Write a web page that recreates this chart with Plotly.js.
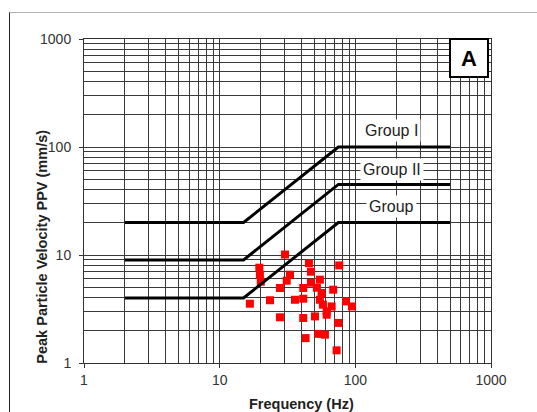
<!DOCTYPE html>
<html>
<head>
<meta charset="utf-8">
<script src="https://cdn.plot.ly/plotly-3.0.1.min.js"></script>
<style>
  html, body { margin: 0; padding: 0; background: #fff; }
  #frame { position: absolute; left: 9px; top: 12px; width: 540px; height: 410px;
           border-left: 1px solid #222; border-top: 1px solid #b0b0b0; }
  #chart { position: absolute; left: 0; top: 0; width: 537px; height: 412px; }
</style>
</head>
<body>
<div id="frame"></div>
<div id="chart"></div>
<script>
// Measured blast vibrations: frequency (Hz) and PPV (mm/s)
const freq = [16.7, 19.6, 19.8, 20.1, 23.5, 27.8, 27.8, 30.3, 31.2, 33.0,
              35.9, 41.3, 41.3, 41.3, 43.0, 45.5, 47.1, 47.1, 52.1, 54.8,
              56.4, 54.8, 57.7, 61.5, 50.4, 61.5, 53.3, 59.7, 66.9, 68.7,
              72.8, 74.8, 76.1, 85.3, 94.4];
const ppv  = [3.54, 7.63, 6.57, 5.66, 3.81, 2.65, 4.95, 10.1, 5.78, 6.57,
              3.85, 4.95, 3.94, 2.61, 1.70, 8.40, 7.00, 5.54, 4.98, 5.91,
              4.45, 3.85, 3.47, 3.00, 2.70, 2.80, 1.86, 1.83, 3.34, 4.77,
              1.31, 2.35, 8.01, 3.72, 3.34];

// Limit curves
const limitFreq = [2, 15, 75, 500];
const groupI    = [20, 20, 100, 100];
const groupII   = [9, 9, 45, 45];
const groupIII  = [4, 4, 20, 20];
const groupLabels = ['Group I', 'Group II', 'Group'];
const groupLabelPos = [[186, 142.5], [186, 61.6], [186, 28.0]];

const decadeVals = [1, 10, 100, 1000];
const decadeText = ['1', '10', '100', '1000'];

const minorVals = [];
for (let d = 1; d <= 100; d *= 10) for (let k = 2; k <= 9; k++) minorVals.push(k * d);

const font = 'Liberation Sans, Arial, sans-serif';

const traces = [
  { x: freq, y: ppv, mode: 'markers', type: 'scatter',
    marker: { symbol: 'square', size: 8, color: '#ff0000' }, hoverinfo: 'x+y' },
  { x: limitFreq, y: groupI, mode: 'lines', line: { color: '#000', width: 3 } },
  { x: limitFreq, y: groupII, mode: 'lines', line: { color: '#000', width: 3 } },
  { x: limitFreq, y: groupIII, mode: 'lines', line: { color: '#000', width: 3 } }
];

function axis() {
  return {
    type: 'log', range: [0, 3], autorange: false,
    tickmode: 'array', tickvals: decadeVals, ticktext: decadeText,
    ticks: 'outside', ticklen: 4, tickcolor: '#333', tickwidth: 1,
    showgrid: true, gridcolor: '#3a3a3a', gridwidth: 1,
    minor: { tickmode: 'array', tickvals: minorVals, showgrid: true,
             gridcolor: '#3a3a3a', gridwidth: 1, ticks: '' },
    showline: true, mirror: true, linecolor: '#333', linewidth: 1,
    zeroline: false,
    tickfont: { family: font, size: 14, color: '#333' }
  };
}

const xa = axis();
const ya = axis();
ya.ticklabelstandoff = 5;

const annotations = groupLabels.map((t, i) => ({
  x: Math.log10(groupLabelPos[i][0]), y: Math.log10(groupLabelPos[i][1]),
  xref: 'x', yref: 'y', xanchor: 'center', yanchor: 'middle',
  text: t, showarrow: false,
  font: { family: font, size: 16, color: '#222' },
  bgcolor: '#ffffff', borderpad: 2
}));

annotations.push({
  xref: 'paper', yref: 'paper', x: 0.5347, y: -0.126, xanchor: 'center', yanchor: 'middle',
  text: '<b>Frequency (Hz)</b>',
  showarrow: false, font: { family: font, size: 14.5, color: '#222' }
});
annotations.push({
  xref: 'paper', yref: 'paper', x: -0.104, y: 0.358, xanchor: 'center', yanchor: 'middle',
  textangle: -90,
  text: '<b>Peak Particle Velocity PPV (mm/s)</b>',
  showarrow: false, font: { family: font, size: 14.5, color: '#222' }
});
annotations.push({
  xref: 'paper', yref: 'paper', x: 0.946, y: 0.941, xanchor: 'center', yanchor: 'middle',
  text: '<b>A</b>',
  showarrow: false, font: { family: font, size: 22, color: '#000' },
  bgcolor: '#ffffff', bordercolor: '#000', borderwidth: 2,
  width: 36, height: 36, borderpad: 0
});

const layout = {
  width: 537, height: 412,
  margin: { l: 84, r: 46, t: 39, b: 49 },
  paper_bgcolor: 'rgba(0,0,0,0)', plot_bgcolor: '#ffffff',
  showlegend: false,
  xaxis: xa, yaxis: ya,
  annotations: annotations
};

Plotly.newPlot('chart', traces, layout, { displayModeBar: false, staticPlot: true });
</script>
</body>
</html>
